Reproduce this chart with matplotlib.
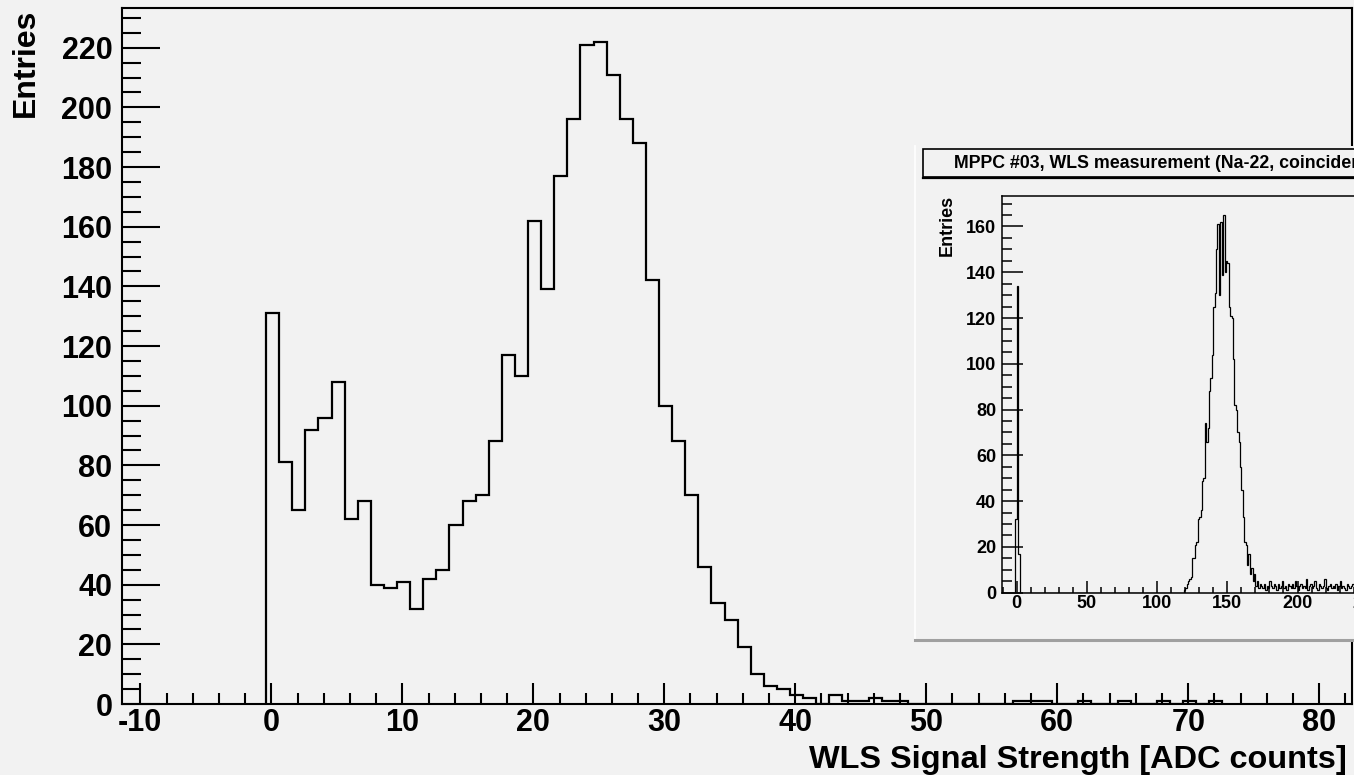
"""ROOT-style WLS signal histogram with the full-range ADC spectrum as an inset."""
import numpy as np
import matplotlib
matplotlib.use("Agg")
import matplotlib.pyplot as plt
from matplotlib.patches import Rectangle
from matplotlib.ticker import MultipleLocator

plt.rcParams.update({
    "font.family": ["Liberation Sans", "DejaVu Sans"],
    "font.weight": "bold",
    "axes.unicode_minus": False,
})

# ---- main histogram: 1-unit bins starting at -0.4 ----
MAIN_FIRST_EDGE = -0.4
main_counts = [131, 81, 65, 92, 96, 108, 62, 68, 40, 39, 41, 32, 42, 45, 60, 68,
               70, 88, 117, 110, 162, 139, 177, 196, 221, 222, 211, 196, 188, 142,
               100, 88, 70, 46, 34, 28, 19, 10, 6, 5, 3, 2, 0, 3, 1, 1, 2, 1, 1,
               0, 0, 0, 0, 0, 0, 0, 0, 1, 1, 1, 0, 0, 1, 0, 0, 1, 0, 0, 1, 0, 1,
               0, 1]

# ---- inset histogram: 1-unit bins, only the non-empty stretches are listed ----
INSET_FIRST_EDGE = -11
pedestal_start = -1
pedestal_counts = [32, 134, 17]
peak_start = 118
peak_counts = [0, 1, 2, 4, 5, 6, 7, 15, 15, 21, 22, 32, 33, 36, 49, 50, 74, 66,
               72, 88, 94, 104, 125, 131, 150, 161, 130, 162, 139, 165, 140, 145,
               144, 125, 121, 120, 102, 82, 80, 70, 66, 55, 45, 33, 22, 21, 12, 17,
               8, 11, 5, 8, 3, 5, 2]
tail_counts = [4, 3, 2, 4, 1, 3, 2, 5, 3, 2, 4, 3, 1, 4, 2, 3, 5, 2, 3, 1, 4, 3,
               2, 4, 2, 5, 3, 1, 3, 4, 2, 3, 2, 6, 1, 3, 4, 2, 3, 5, 2, 1, 4, 3, 2,
               3, 6, 2, 1, 3, 4, 2, 3, 2, 4, 1, 3, 5, 2, 3, 2, 1, 4, 3, 2, 3, 4, 2,
               1, 3, 2, 4, 3]

TITLE = "MPPC #03, WLS measurement (Na-22, coincidence)"
BG = "#f2f2f2"

W, H = 1354, 775


def rect(x0, y0, x1, y1):
    """pixel box (top-left origin) -> figure fraction [l, b, w, h]"""
    return [x0 / W, 1 - y1 / H, (x1 - x0) / W, (y1 - y0) / H]


fig = plt.figure(figsize=(W / 100, H / 100), dpi=100, facecolor=BG)

# ================= main panel =================
ax = fig.add_axes(rect(122, 8, 1352, 704), facecolor=BG)
edges = MAIN_FIRST_EDGE + np.arange(len(main_counts) + 1)
ax.stairs(main_counts, edges, color="black", linewidth=1.6, baseline=0)
ax.set_xlim(-11.4, 82.5)
ax.set_ylim(0, 233.3)
ax.xaxis.set_major_locator(MultipleLocator(10))
ax.xaxis.set_minor_locator(MultipleLocator(2))
ax.yaxis.set_major_locator(MultipleLocator(20))
ax.yaxis.set_minor_locator(MultipleLocator(5))
ax.tick_params(axis="y", which="major", direction="in", length=27, width=1.5,
               labelsize=22, pad=7)
ax.tick_params(axis="y", which="minor", direction="in", length=13.5, width=1.5)
ax.tick_params(axis="x", which="major", direction="in", length=15, width=1.5,
               labelsize=22, pad=3)
ax.tick_params(axis="x", which="minor", direction="in", length=8, width=1.5)
for s in ax.spines.values():
    s.set_linewidth(1.5)

fig.text(1347 / W, 1 - 768 / H, "WLS Signal Strength [ADC counts]", ha="right",
         va="baseline", fontsize=23.4, fontweight="bold")
fig.text(26 / W, 1 - 9 / H, "Entries", rotation=90, ha="center", va="top",
         fontsize=23, fontweight="bold")

# ================= inset pad =================
pad_box = rect(915, 146, 1400, 640)
fig.add_artist(Rectangle((pad_box[0], pad_box[1]), pad_box[2], pad_box[3],
                         transform=fig.transFigure, facecolor=BG, edgecolor="none",
                         zorder=1))
fig.add_artist(plt.Line2D([915 / W, 915 / W], [1 - 640 / H, 1 - 146 / H],
                          transform=fig.transFigure, color="white", lw=1.2, zorder=1.1))
fig.add_artist(plt.Line2D([915 / W, 1.0], [1 - 640 / H, 1 - 640 / H],
                          transform=fig.transFigure, color="#a0a0a0", lw=2.2, zorder=1.1))

# green stats box peeking in at the right edge
g = rect(1351.5, 479, 1420, 555)
fig.add_artist(Rectangle((g[0], g[1]), g[2], g[3], transform=fig.transFigure,
                         facecolor=BG, edgecolor="#a2c35e", lw=2.5, zorder=1.2))

# title box
t = rect(922.5, 149, 1420, 177)
fig.add_artist(Rectangle((t[0], t[1]), t[2], t[3], transform=fig.transFigure,
                         facecolor=BG, edgecolor="black", lw=1.2, zorder=4))
fig.add_artist(plt.Line2D([922.5 / W, 1.0], [1 - 178 / H, 1 - 178 / H],
                          transform=fig.transFigure, color="black", lw=1.6, zorder=4))
fig.text(954 / W, 1 - 163 / H, TITLE, ha="left", va="center", fontsize=12.8,
         fontweight="bold", zorder=5)

# inset axes
ix_min, ix_max = -10.7, 300
iax = fig.add_axes(rect(1001.7, 196, 1001.7 + (ix_max - ix_min) * 1.404, 592.7),
                   facecolor=BG)
iax.set_zorder(3)
n_inset = 260
inset_counts = np.zeros(n_inset)
i0 = pedestal_start - INSET_FIRST_EDGE
inset_counts[i0:i0 + len(pedestal_counts)] = pedestal_counts
i1 = peak_start - INSET_FIRST_EDGE
inset_counts[i1:i1 + len(peak_counts)] = peak_counts
i2 = i1 + len(peak_counts)
inset_counts[i2:i2 + len(tail_counts)] = tail_counts
iedges = INSET_FIRST_EDGE + np.arange(n_inset + 1)
iax.stairs(inset_counts, iedges, color="black", linewidth=0.9, baseline=0)
iax.set_xlim(ix_min, ix_max)
iax.set_ylim(0, 173.3)
iax.xaxis.set_major_locator(MultipleLocator(50))
iax.xaxis.set_minor_locator(MultipleLocator(10))
iax.yaxis.set_major_locator(MultipleLocator(20))
iax.yaxis.set_minor_locator(MultipleLocator(5))
iax.tick_params(axis="y", which="major", direction="in", length=15, width=1.1,
                labelsize=13, pad=4)
iax.tick_params(axis="y", which="minor", direction="in", length=7.5, width=1.1)
iax.tick_params(axis="x", which="major", direction="in", length=9, width=1.1,
                labelsize=13, pad=2)
iax.tick_params(axis="x", which="minor", direction="in", length=4.5, width=1.1)
for s in iax.spines.values():
    s.set_linewidth(1.1)
fig.text(947 / W, 1 - 195 / H, "Entries", rotation=90, ha="center", va="top",
         fontsize=13, fontweight="bold", zorder=5)

fig.savefig("out.png", dpi=100, facecolor=BG)
